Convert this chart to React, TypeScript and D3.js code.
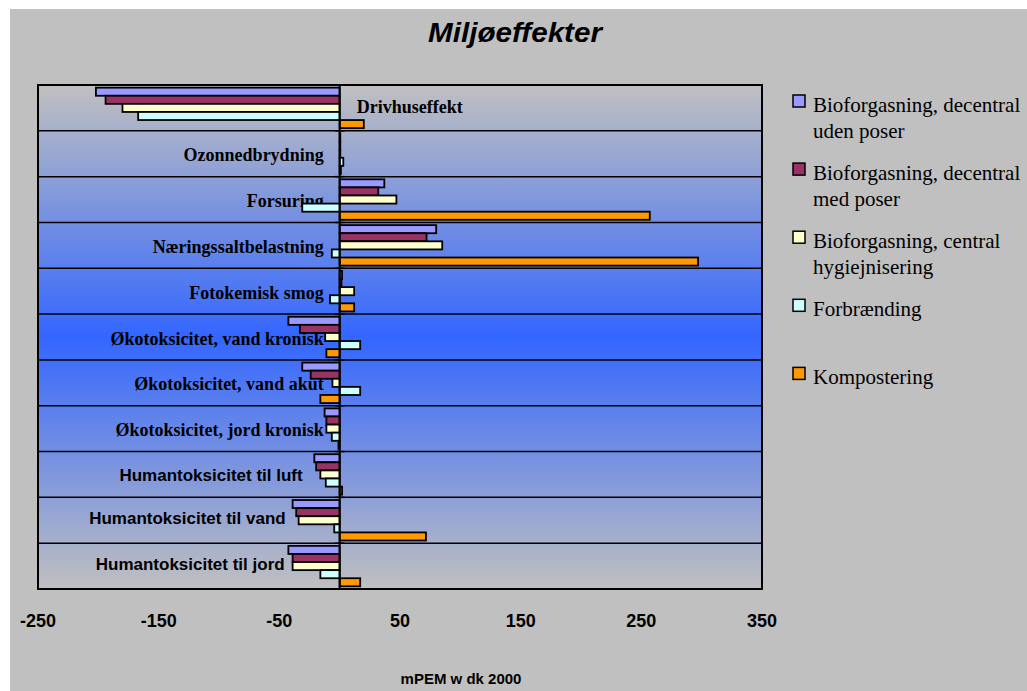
import React from "react";
import * as d3 from "d3";

const categories = [
  "Drivhuseffekt",
  "Ozonnedbrydning",
  "Forsuring",
  "Næringssaltbelastning",
  "Fotokemisk smog",
  "Økotoksicitet, vand kronisk",
  "Økotoksicitet, vand akut",
  "Økotoksicitet, jord kronisk",
  "Humantoksicitet til luft",
  "Humantoksicitet til vand",
  "Humantoksicitet til jord",
];

const seriesNames = [
  "Bioforgasning, decentral uden poser",
  "Bioforgasning, decentral med poser",
  "Bioforgasning, central hygiejnisering",
  "Forbrænding",
  "Kompostering",
];

const legendLines = [
  ["Bioforgasning, decentral", "uden poser"],
  ["Bioforgasning, decentral", "med poser"],
  ["Bioforgasning, central", "hygiejnisering"],
  ["Forbrænding"],
  ["Kompostering"],
];

const bioDecentralUden = [-202, 0.5, 37, 80, 2, -42.5, -31, -12.5, -21, -39, -42.5];
const bioDecentralMed = [-194, 0.5, 32, 72, 1.5, -33, -24, -11, -19.5, -36, -39];
const bioCentral = [-180, 0.5, 47, 85, 12, -12, -6, -11, -16, -34, -39];
const forbraending = [-167, 3, -31, -6.5, -8, 17, 17, -6.5, -11.5, -4.5, -16];
const kompostering = [20, 1, 257, 297, 12, -11, -16, -1, 2, 71.5, 17];

const xTicks = [-250, -150, -50, 50, 150, 250, 350];

const seriesColors = ["#9999FF", "#993366", "#FFFFCC", "#CCFFFF", "#FF9900"];

// label layout (style only): anchor, horizontal offset from zero line, vertical offset from band centre, font
const labelLayout = [
  { anchor: "start", dx: 17, dy: 5.5, sans: false },
  { anchor: "end", dx: -16, dy: 7.5, sans: false },
  { anchor: "end", dx: -16, dy: 7.5, sans: false },
  { anchor: "end", dx: -16, dy: 7.5, sans: false },
  { anchor: "end", dx: -16, dy: 7.5, sans: false },
  { anchor: "end", dx: -16, dy: 8, sans: false },
  { anchor: "end", dx: -16, dy: 7.5, sans: false },
  { anchor: "end", dx: -16, dy: 7.5, sans: false },
  { anchor: "end", dx: -37, dy: 6.5, sans: true },
  { anchor: "end", dx: -54, dy: 3.5, sans: true },
  { anchor: "end", dx: -55, dy: 4, sans: true },
];

const W = 1027;
const H = 691;
const plot = { left: 38, right: 762, top: 85, bottom: 589 };
const SANS = "'Liberation Sans', Arial, sans-serif";
const SERIF = "'Liberation Serif', 'Times New Roman', serif";

export default function App() {
  const seriesValues = [bioDecentralUden, bioDecentralMed, bioCentral, forbraending, kompostering];

  const x = d3.scaleLinear().domain([-250, 350]).range([plot.left, plot.right]);
  const y = d3.scaleBand().domain(categories).range([plot.top, plot.bottom]).padding(0);
  const inner = d3
    .scaleBand()
    .domain(seriesNames)
    .range([0, y.bandwidth()])
    .paddingInner(0)
    .paddingOuter(0.33);

  const x0 = x(0);
  const boundaries = categories.map((c) => y(c)!).slice(1);

  return (
    <svg
      width={W}
      height={H}
      style={{ position: "absolute", left: 0, top: 0, display: "block" }}
    >
      <defs>
        <linearGradient id="plotGrad" x1="0" y1="0" x2="0" y2="1">
          <stop offset="0%" stopColor="#c0c0c0" />
          <stop offset="50%" stopColor="#3366ff" />
          <stop offset="100%" stopColor="#c0c0c0" />
        </linearGradient>
      </defs>
      <rect x={10} y={9} width={W - 10} height={H - 9} fill="#c0c0c0" />

      <text
        x={515}
        y={42}
        textAnchor="middle"
        fontFamily={SANS}
        fontWeight="bold"
        fontStyle="italic"
        fontSize={27}
        textLength={174}
        lengthAdjust="spacingAndGlyphs"
        fill="#000"
      >
        Miljøeffekter
      </text>

      <rect
        x={plot.left}
        y={plot.top}
        width={plot.right - plot.left}
        height={plot.bottom - plot.top}
        fill="url(#plotGrad)"
      />

      {boundaries.map((b, i) => (
        <line key={"g" + i} x1={plot.left} x2={plot.right} y1={b} y2={b} stroke="#000" strokeWidth={1.5} />
      ))}

      {categories.map((c, ci) => {
        const lay = labelLayout[ci];
        return (
          <text
            key={"l" + ci}
            x={x0 + lay.dx}
            y={y(c)! + y.bandwidth() / 2 + lay.dy}
            textAnchor={lay.anchor as any}
            fontFamily={lay.sans ? SANS : SERIF}
            fontWeight="bold"
            fontSize={lay.sans ? 17 : 18}
            fill="#000"
          >
            {c}
          </text>
        );
      })}

      {seriesValues.map((vals, si) =>
        vals.map((v, ci) => {
          const by = y(categories[ci])! + inner(seriesNames[si])!;
          const xa = x(Math.min(0, v));
          const xb = x(Math.max(0, v));
          return (
            <rect
              key={"b" + si + "-" + ci}
              x={xa}
              y={by}
              width={Math.max(xb - xa, 0.5)}
              height={inner.bandwidth()}
              fill={seriesColors[si]}
              stroke="#000"
              strokeWidth={1.8}
            />
          );
        })
      )}

      {[plot.top, ...boundaries, plot.bottom].map((b, i) => (
        <line key={"t" + i} x1={x0 - 5} x2={x0 + 5} y1={b} y2={b} stroke="#000" strokeWidth={1.5} />
      ))}
      <line x1={x0} x2={x0} y1={plot.top} y2={plot.bottom} stroke="#000" strokeWidth={2} />

      <rect
        x={plot.left}
        y={plot.top}
        width={plot.right - plot.left}
        height={plot.bottom - plot.top}
        fill="none"
        stroke="#000"
        strokeWidth={2}
      />

      {xTicks.map((t) => (
        <text
          key={"x" + t}
          x={x(t)}
          y={627}
          textAnchor="middle"
          fontFamily={SANS}
          fontWeight="bold"
          fontSize={18}
          fill="#000"
        >
          {t}
        </text>
      ))}

      <text
        x={461}
        y={684}
        textAnchor="middle"
        fontFamily={SANS}
        fontWeight="bold"
        fontSize={15}
        fill="#000"
      >
        mPEM w dk 2000
      </text>

      {legendLines.map((lines, i) => {
        const cy = 101.5 + i * 68.1;
        return (
          <g key={"lg" + i}>
            <rect
              x={793}
              y={cy - 6.5}
              width={12}
              height={12}
              fill={seriesColors[i]}
              stroke="#000"
              strokeWidth={1.5}
            />
            {lines.map((ln, li) => (
              <text
                key={li}
                x={813}
                y={cy + 10 + li * 26.5}
                fontFamily={SERIF}
                fontSize={21}
                fill="#000"
              >
                {ln}
              </text>
            ))}
          </g>
        );
      })}
    </svg>
  );
}
